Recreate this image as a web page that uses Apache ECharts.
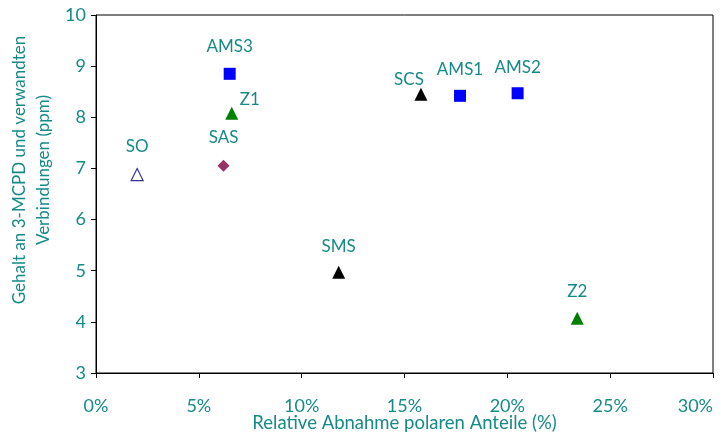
<!DOCTYPE html>
<html>
<head>
<meta charset="utf-8">
<script src="https://cdn.jsdelivr.net/npm/echarts@6/dist/echarts.min.js"></script>
<style>
  html, body { margin: 0; padding: 0; background: #fff; }
  #chart { width: 721px; height: 435px; }
</style>
</head>
<body>
<div id="chart"></div>
<script>
// Proben und Werte
var names = ['SO', 'SAS', 'AMS3', 'Z1', 'SMS', 'SCS', 'AMS1', 'AMS2', 'Z2'];
var xVals = [2.0, 6.2, 6.5, 6.6, 11.8, 15.8, 17.7, 20.5, 23.4];   // Relative Abnahme (%)
var yVals = [6.88, 7.05, 8.85, 8.08, 4.97, 8.45, 8.42, 8.47, 4.07]; // ppm

var teal = '#168a87';
var font = 'Lato';

// Marker-Stil pro Probe
var styles = {
  SO:   { symbol: 'triangle', size: 12, color: '#fff', border: '#333399', bw: 1.2 },
  SAS:  { symbol: 'diamond',  size: 12, color: '#993366' },
  AMS3: { symbol: 'rect',     size: 12, color: '#0000ff' },
  Z1:   { symbol: 'triangle', size: 13, color: '#008000' },
  SMS:  { symbol: 'triangle', size: 13, color: '#000000' },
  SCS:  { symbol: 'triangle', size: 13, color: '#000000' },
  AMS1: { symbol: 'rect',     size: 12, color: '#0000ff' },
  AMS2: { symbol: 'rect',     size: 12, color: '#0000ff' },
  Z2:   { symbol: 'triangle', size: 13, color: '#008000' }
};
// Label-Versatz
var offsets = {
  SO: [0, -28], SAS: [0, -28], AMS3: [0, -27], Z1: [18, -14], SMS: [0, -26],
  SCS: [-12, -15], AMS1: [0, -26], AMS2: [0, -26], Z2: [0, -27]
};

var data = names.map(function (n, i) {
  var s = styles[n];
  return {
    name: n,
    value: [xVals[i], yVals[i]],
    symbol: s.symbol,
    symbolSize: s.size,
    itemStyle: { color: s.color, borderColor: s.border || s.color, borderWidth: s.bw || 0, opacity: 1 },
    label: { offset: offsets[n] }
  };
});

var chart = echarts.init(document.getElementById('chart'));
chart.setOption({
  animation: false,
  grid: {
    left: 96, right: 8, top: 15, bottom: 62,
    outerBoundsMode: 'none', containLabel: false,
    show: true, borderColor: '#000', borderWidth: 1
  },
  xAxis: {
    type: 'value', min: 0, max: 30, interval: 5,
    name: 'Relative Abnahme polaren Anteile (%)',
    nameLocation: 'middle', nameGap: 41, nameMoveOverlap: false,
    nameTextStyle: { color: teal, fontFamily: font, fontSize: 18.5 },
    axisLine: { lineStyle: { color: '#000' } },
    axisTick: { show: true, length: 5, lineStyle: { color: '#000' } },
    axisLabel: {
      color: teal, fontFamily: font, fontSize: 18, margin: 24,
      formatter: '{value}%', alignMaxLabel: 'right'
    },
    splitLine: { show: false }
  },
  yAxis: {
    type: 'value', min: 3, max: 10, interval: 1,
    name: 'Gehalt an 3-MCPD und verwandten\nVerbindungen (ppm)',
    nameLocation: 'middle', nameGap: 40, nameMoveOverlap: false,
    nameTextStyle: { color: teal, fontFamily: font, fontSize: 17, lineHeight: 24, padding: [0, 0, 0, 48] },
    axisLine: { lineStyle: { color: '#000' } },
    axisTick: { show: true, length: 5, lineStyle: { color: '#000' } },
    axisLabel: { color: teal, fontFamily: font, fontSize: 18, margin: 10 },
    splitLine: { show: false }
  },
  series: [{
    type: 'scatter',
    data: data,
    label: {
      show: true, position: 'inside', formatter: '{b}',
      color: teal, fontFamily: font, fontSize: 17
    },
    emphasis: { disabled: true }
  }]
});
</script>
</body>
</html>
